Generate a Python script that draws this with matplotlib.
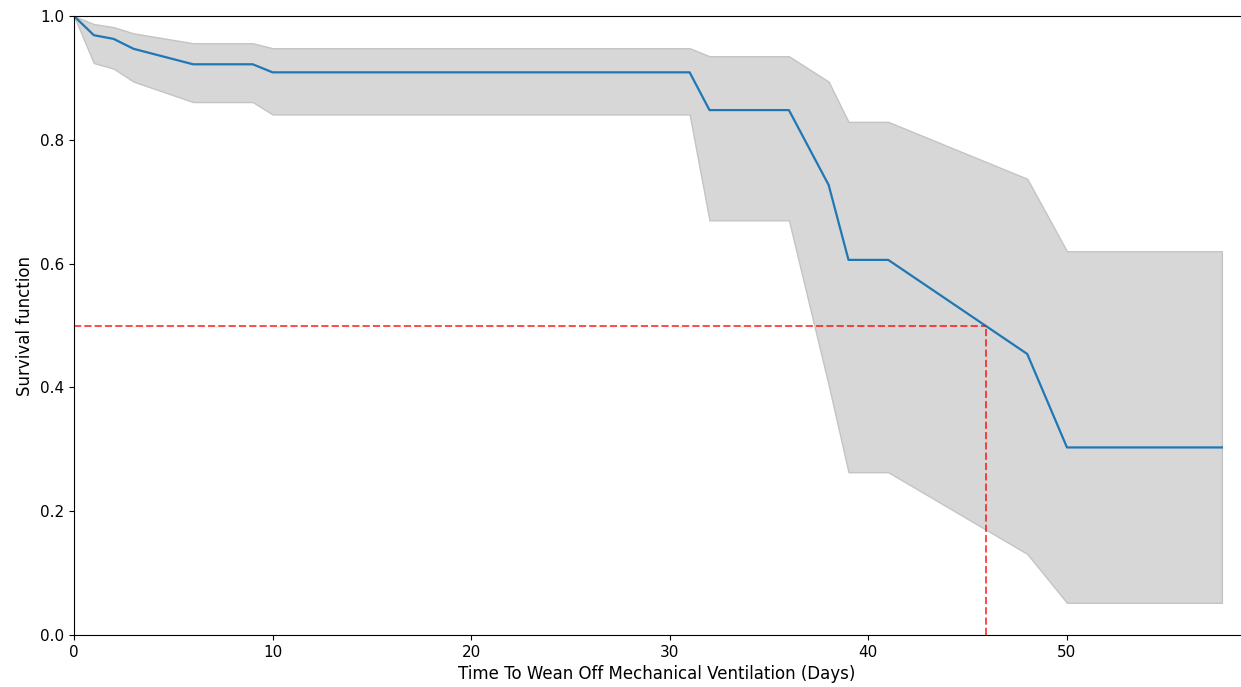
import numpy as np
import matplotlib
matplotlib.use("Agg")
import matplotlib.pyplot as plt

# ---------------- Kaplan-Meier estimate ----------------
days = [0, 1, 2, 3, 6, 9, 10, 31, 32, 36, 38, 39, 41, 48, 50, 57.8]
survival = [1.0, 0.969, 0.963, 0.947, 0.922, 0.922, 0.909, 0.909,
            0.848, 0.848, 0.727, 0.606, 0.606, 0.454, 0.303, 0.303]
ci_upper = [1.0, 0.987, 0.982, 0.972, 0.956, 0.956, 0.948, 0.948,
            0.935, 0.935, 0.894, 0.829, 0.829, 0.737, 0.620, 0.620]
ci_lower = [1.0, 0.924, 0.915, 0.894, 0.861, 0.861, 0.841, 0.841,
            0.670, 0.670, 0.404, 0.263, 0.263, 0.131, 0.052, 0.052]

median_day = 45.9
median_level = 0.5

# ---------------- Plot ----------------
fig, ax = plt.subplots(figsize=(12.41, 6.87), dpi=100)
plt.subplots_adjust(left=0.0596, right=0.999, bottom=0.0757, top=0.9767)

ax.fill_between(days, ci_lower, ci_upper, color="#d7d7d7", edgecolor="#c4c4c4",
                linewidth=1.0)
ax.plot(days, survival, color="#1f77b4", linewidth=1.6)

# median survival guide lines
ax.plot([0, median_day], [median_level, median_level], color="red",
        linestyle="--", linewidth=1.4, alpha=0.7)
ax.plot([median_day, median_day], [0, median_level], color="red",
        linestyle="--", linewidth=1.4, alpha=0.7)

ax.set_xlim(0, 58.7)
ax.set_ylim(0, 1.0)
ax.set_xticks([0, 10, 20, 30, 40, 50])
ax.set_yticks([0.0, 0.2, 0.4, 0.6, 0.8, 1.0])
ax.tick_params(labelsize=11)

ax.spines["right"].set_visible(False)

ax.set_xlabel("Time To Wean Off Mechanical Ventilation (Days)", fontsize=12)
ax.set_ylabel("Survival function", fontsize=12)

plt.savefig("out.png", dpi=100)
